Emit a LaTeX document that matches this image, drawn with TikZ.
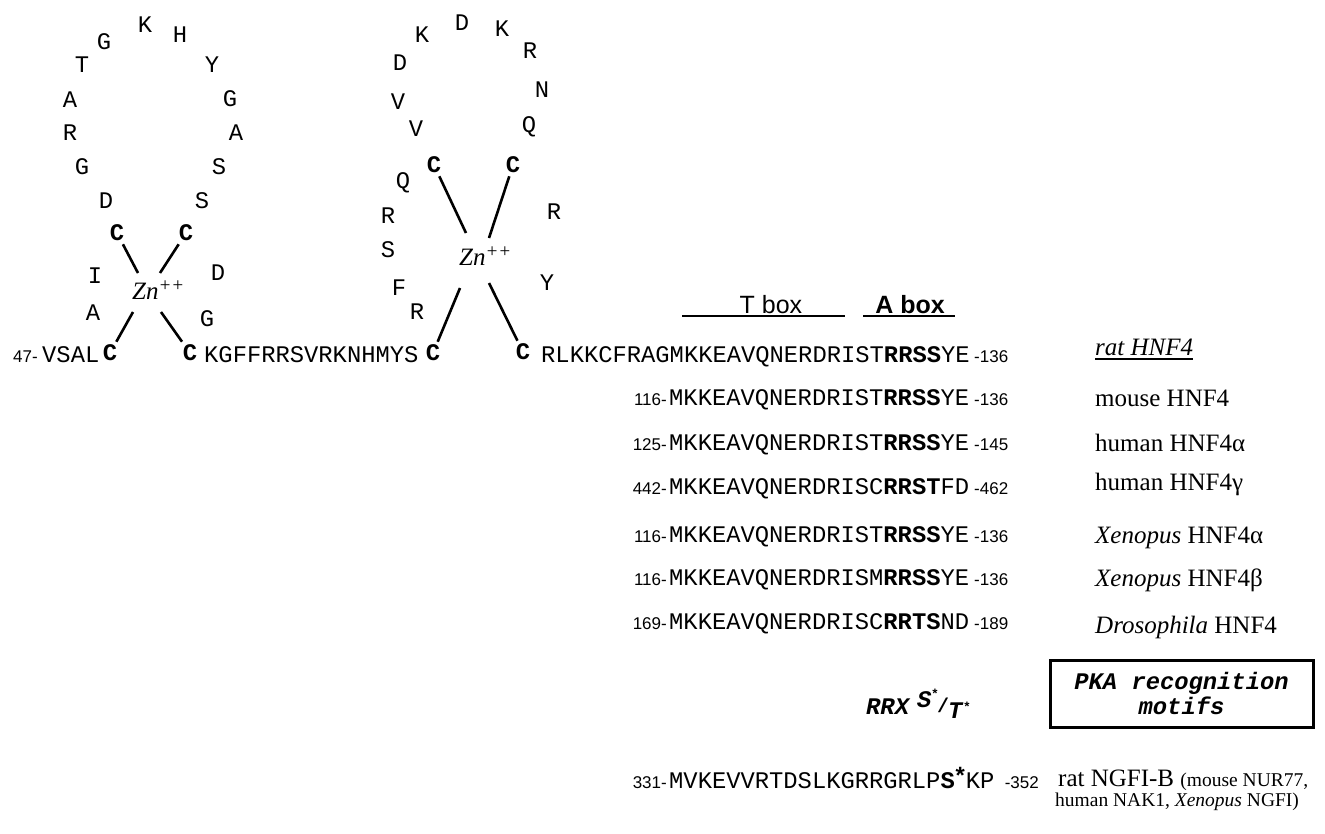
\documentclass[tikz,border=0pt]{standalone}
\usepackage{fontspec}
\setmainfont{Liberation Serif}
\setsansfont{Liberation Sans}
\setmonofont{Liberation Mono}
\begin{document}
\begin{tikzpicture}[x=1pt,y=-1pt,
  seq/.style={font=\fontsize{23.8}{26}\selectfont\ttfamily, inner sep=0, anchor=base west},
  aa/.style={font=\fontsize{23.8}{26}\selectfont\ttfamily, inner sep=0},
  cys/.style={font=\fontsize{23.8}{26}\selectfont\ttfamily\bfseries, inner sep=3pt},
  num/.style={font=\fontsize{17}{20}\selectfont\sffamily, inner sep=0},
  lbl/.style={font=\fontsize{25}{28}\selectfont\rmfamily, inner sep=0, anchor=base west},
  zn/.style={font=\fontsize{25}{27}\selectfont\rmfamily\itshape, inner sep=0, anchor=base west},
  hdr/.style={font=\fontsize{25}{28}\selectfont\sffamily, inner sep=0, anchor=base},
  motif/.style={font=\fontsize{23.8}{26}\selectfont\ttfamily\bfseries\itshape, inner sep=0, anchor=base west},
  bond/.style={line width=2.6pt},
  uline/.style={line width=1.6pt}]
\useasboundingbox (0,0) rectangle (1325,833);
% zinc finger 1 loop
\foreach \x/\y/\t/\n in {145/25/K/a1,180/35/H/a2,104/42/G/a3,82/65/T/a4,212/65/Y/a5,70/100/A/a6,230/99/G/a7,70/133/R/a8,236/133/A/a9,82/167/G/a10,219/167/S/a11,106/201/D/a12,202/201/S/a13,95/276/I/a14,218/273/D/a15,93/313/A/a16,207/319/G/a17}
  \node[aa] (\n) at (\x,\y) {\t};
% zinc finger 2 loop
\foreach \x/\y/\t/\n in {462/23/D/b1,422/35/K/b2,502/29/K/b3,530/51/R/b4,400/63/D/b5,542/90/N/b6,398/102/V/b7,416/129/V/b8,529/127/Q/b9,403/183/Q/b10,554/212/R/b11,388/216/R/b12,388/250/S/b13,547/283/Y/b14,399/288/F/b15,417/312/R/b16}
  \node[aa] (\n) at (\x,\y) {\t};
% cysteines
\node[cys] (c5) at (117,233) {C};
\node[cys] (c6) at (186,233) {C};
\node[cys] (c7) at (434,165) {C};
\node[cys] (c8) at (513,165) {C};
\node[cys] (c1) at (110,353) {C};
\node[cys] (c2) at (190,353) {C};
\node[cys] (c3) at (433,353) {C};
\node[cys] (c4) at (523,352) {C};
% zinc
\node[zn] (zn1) at (132,299) {Zn\raisebox{8pt}{\fontsize{19}{20}\selectfont ++}};
\node[zn] (zn2) at (459,265) {Zn\raisebox{8pt}{\fontsize{19}{20}\selectfont ++}};
\coordinate (z1a) at (138,273); \coordinate (z1b) at (160,273);
\coordinate (z1c) at (133,312); \coordinate (z1d) at (161,312);
\coordinate (z2a) at (466,233); \coordinate (z2b) at (489,238);
\coordinate (z2c) at (460,288); \coordinate (z2d) at (489,283);
\draw[bond] (c5) -- (z1a);
\draw[bond] (c6) -- (z1b);
\draw[bond] (c1) -- (z1c);
\draw[bond] (c2) -- (z1d);
\draw[bond] (c7) -- (z2a);
\draw[bond] (c8) -- (z2b);
\draw[bond] (c3) -- (z2c);
\draw[bond] (c4) -- (z2d);
% main line
\node[num, anchor=base east] (n47) at (38,362) {47-};
\node[seq] (vsal) at (42,362) {VSAL};
\node[seq] (kgf) at (204,362) {KGFFRRSVRKNHMYS};
\node[seq] (rlk) at (541,362) {RLKKCFRAGMKKEAVQNERDRIST\textbf{RRSS}YE};
\node[num, anchor=base west] (e0) at (974,362) {-136};
% headers
\node[hdr] (tbox) at (771,313) {T box};
\node[hdr] (abox) at (910,313) {\bfseries A box};
\coordinate (tl1) at (682,316); \coordinate (tl2) at (845,316);
\coordinate (al1) at (863,316); \coordinate (al2) at (955,316);
\draw[uline] (tl1) -- (tl2);
\draw[uline] (al1) -- (al2);
% rows
\node[num, anchor=base east] (n1) at (667,405) {116-};
\node[seq] (s1) at (669,405) {MKKEAVQNERDRIST\textbf{RRSS}YE};
\node[num, anchor=base west] (e1) at (974,405) {-136};
\node[num, anchor=base east] (n2) at (667,450) {125-};
\node[seq] (s2) at (669,450) {MKKEAVQNERDRIST\textbf{RRSS}YE};
\node[num, anchor=base west] (e2) at (974,450) {-145};
\node[num, anchor=base east] (n3) at (667,494) {442-};
\node[seq] (s3) at (669,494) {MKKEAVQNERDRISC\textbf{RRST}FD};
\node[num, anchor=base west] (e3) at (974,494) {-462};
\node[num, anchor=base east] (n4) at (667,542) {116-};
\node[seq] (s4) at (669,542) {MKKEAVQNERDRIST\textbf{RRSS}YE};
\node[num, anchor=base west] (e4) at (974,542) {-136};
\node[num, anchor=base east] (n5) at (667,585) {116-};
\node[seq] (s5) at (669,585) {MKKEAVQNERDRISM\textbf{RRSS}YE};
\node[num, anchor=base west] (e5) at (974,585) {-136};
\node[num, anchor=base east] (n6) at (667,629) {169-};
\node[seq] (s6) at (669,629) {MKKEAVQNERDRISC\textbf{RRTS}ND};
\node[num, anchor=base west] (e6) at (974,629) {-189};
% labels
\node[lbl] (l0) at (1095,355) {\itshape rat HNF4};
\draw[line width=1.2pt] ([yshift=-4pt]l0.base west) -- ([yshift=-4pt]l0.base east);
\node[lbl] (l1) at (1095,406) {mouse HNF4};
\node[lbl] (l2) at (1095,451) {human HNF4α};
\node[lbl] (l3) at (1095,490) {human HNF4γ};
\node[lbl] (l4) at (1095,543) {\textit{Xenopus} HNF4α};
\node[lbl] (l5) at (1095,586) {\textit{Xenopus} HNF4β};
\node[lbl] (l6) at (1095,633) {\textit{Drosophila} HNF4};
% motif
\node[motif] (rrx) at (866,714) {RRX};
\node[motif] (ms) at (917,707) {S};
\node[motif, font=\fontsize{13}{13}\selectfont\ttfamily\bfseries] (msa) at (931,698) {*};
\node[motif, font=\fontsize{20}{22}\selectfont\ttfamily\bfseries] (msl) at (937,712) {/};
\node[motif] (mt) at (948,718) {T};
\node[motif, font=\fontsize{13}{13}\selectfont\ttfamily\bfseries] (mta) at (963,711) {*};
\node[draw, line width=3pt, minimum width=263pt, minimum height=67pt, inner sep=0, align=center,
  font=\fontsize{23.8}{25}\selectfont\ttfamily\bfseries\itshape] (pka) at (1181.5,693.5) {PKA recognition\\motifs};
% NGFI-B
\node[num, anchor=base east] (n7) at (667,788) {331-};
\node[seq] (s7) at (669,788) {MVKEVVRTDSLKGRRGRLP\textbf{S}\makebox[11pt]{\raisebox{4pt}{\bfseries *}}KP};
\node[num, anchor=base west] (e7) at ([xshift=10pt]s7.base east) {-352};
\node[lbl] (l7) at (1058,786) {rat NGFI-B {\fontsize{19.5}{22}\selectfont (mouse NUR77,}};
\node[lbl, font=\fontsize{19.5}{22}\selectfont\rmfamily] (l8) at (1055,806) {human NAK1, \textit{Xenopus} NGFI)};
\end{tikzpicture}
\end{document}
